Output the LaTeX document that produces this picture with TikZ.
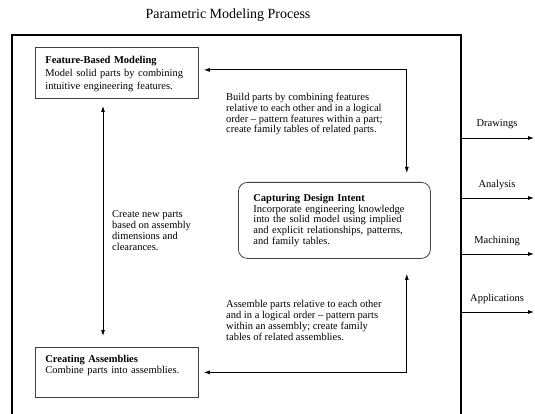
\documentclass[tikz,border=0pt]{standalone}
\usepackage{fontspec}
\setmainfont{Liberation Serif}
\usetikzlibrary{arrows.meta,calc}
\begin{document}
\begin{tikzpicture}[x=1pt,y=-1pt,
  every node/.style={font=\fontsize{10.5}{10.8}\selectfont},
  box/.style={draw=black!75,line width=0.8pt,anchor=north west,align=left,inner xsep=10pt,inner ysep=4pt},
  txt/.style={anchor=north west,align=left,inner sep=0pt},
  lbl/.style={anchor=base,inner sep=0pt},
  frame/.style={line width=1.6pt},
  conn/.style={line width=0.8pt,{Latex[length=6pt,width=4pt]}-{Latex[length=6pt,width=4pt]}},
  outarrow/.style={line width=0.8pt,-{Latex[length=6pt,width=4pt]}}]
\useasboundingbox (0,0) rectangle (535,414);
% title
\node[anchor=base,inner sep=0pt,font=\fontsize{14}{16}\selectfont] (title) at (228,19) {Parametric Modeling Process};
% frame
\coordinate (fbl) at (12,414);
\coordinate (ftl) at (12,35);
\coordinate (ftr) at (461,35);
\coordinate (fbr) at (461,414);
\draw[frame] (fbl) -- (ftl) -- (ftr) -- (fbr);
% boxes
\node[box,text width=143pt,minimum height=51pt,font=\fontsize{10.5}{13}\selectfont] (fbm) at (35,47)
  {\rule{0pt}{10.2pt}\textbf{Feature-Based Modeling}\\Model solid parts by combining\\intuitive engineering features.};
\node[box,text width=143pt,minimum height=50pt] (ca) at (35,347)
  {\textbf{Creating Assemblies}\\Combine parts into assemblies.\\[6pt]\mbox{}};
\node[box,rounded corners=9pt,text width=162pt,inner xsep=15pt,minimum height=76pt] (cdi) at (238,182)
  {\textbf{Capturing Design Intent}\\Incorporate engineering knowledge\\into the solid model using implied\\and explicit relationships, patterns,\\and family tables.};
% texts
\node[txt] (t1) at (226,93) {Build parts by combining features\\relative to each other and in a logical\\order -- pattern features within a part;\\create family tables of related parts.};
\node[txt] (t2) at (112,210.5) {Create new parts\\based on assembly\\dimensions and\\clearances.};
\node[txt] (t3) at (226,300.5) {Assemble parts relative to each other\\and in a logical order -- pattern parts\\within an assembly; create family\\tables of related assemblies.};
% connectors
\coordinate (a1) at ($(fbm.east)+(5,-3)$);
\coordinate (a2) at ($(cdi.north east)+(-24,-9)$);
\draw[conn] (a1) -| (a2);
\coordinate (b1) at ($(ca.east)+(5,0)$);
\coordinate (b2) at ($(cdi.south east)+(-24,15)$);
\draw[conn] (b1) -| (b2);
\coordinate (v1) at (103,106);
\coordinate (v2) at (103,336);
\draw[conn] (v1) -- (v2);
% outputs
\foreach \n/\y/\t in {d/138/Drawings,a/198/Analysis,m/254/Machining,p/312/Applications}{
  \coordinate (s\n) at (461,\y);
  \coordinate (e\n) at (534,\y);
  \draw[outarrow] (s\n) -- (e\n);
  \node[lbl] (l\n) at (497,\y-11) {\t};
}
\end{tikzpicture}
\end{document}
